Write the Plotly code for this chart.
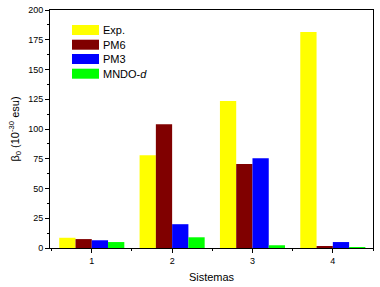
import plotly.graph_objects as go

categories = [1, 2, 3, 4]
tick_labels = ["1", "2", "3", "4"]
series_names = ["Exp.", "PM6", "PM3", "MNDO-<i>d</i>"]
exp_vals = [8.6, 78, 123.5, 181.5]
pm6_vals = [7.5, 104, 70.5, 1.7]
pm3_vals = [6.5, 20, 75.5, 5]
mndo_vals = [5, 9, 2.3, 0.8]
colors = ["#FFFF00", "#800000", "#0000FF", "#00FF00"]

all_vals = [exp_vals, pm6_vals, pm3_vals, mndo_vals]

fig = go.Figure()
for name, vals, c in zip(series_names, all_vals, colors):
    fig.add_trace(go.Bar(x=categories, y=vals, name=name, marker=dict(color=c, line=dict(width=0)),
                         showlegend=False))

# custom legend (wide swatches like the original)
row_y = [30, 44.7, 59, 73.7]
for name, c, yy in zip(series_names, colors, row_y):
    fig.add_shape(type="rect", xref="paper", yref="paper",
                  x0=(72 - 50) / 323, x1=(99 - 50) / 323,
                  y0=(248 - (yy + 5)) / 238, y1=(248 - (yy - 5)) / 238,
                  fillcolor=c, line=dict(width=0), layer="above")
    fig.add_annotation(xref="paper", yref="paper", x=(101 - 50) / 323, y=(248 - yy) / 238,
                       text=name, showarrow=False, xanchor="left", yanchor="middle",
                       font=dict(family="Liberation Sans, Arial", size=11, color="black"))

fig.update_layout(
    width=380, height=287,
    margin=dict(l=50, r=7, t=10, b=39),
    plot_bgcolor="white", paper_bgcolor="white",
    barmode="group", bargap=0.19, bargroupgap=0,
    font=dict(family="Liberation Sans, Arial", size=9, color="black"),
)
fig.update_xaxes(
    range=[0.48, 4.5], tickmode="array", tickvals=categories, ticktext=tick_labels,
    ticks="outside", ticklen=4, tickwidth=1, tickcolor="black",
    minor=dict(ticks="outside", ticklen=2, tickvals=[0.5, 1.5, 2.5, 3.5, 4.5], tickcolor="black"),
    showline=True, linecolor="black", linewidth=1, mirror=True, showgrid=False, zeroline=False,
    automargin=False, ticklabeloverflow="allow",
    title=dict(text="Sistemas", font=dict(size=11), standoff=8),
    tickfont=dict(size=9),
)
fig.update_yaxes(
    range=[0, 200], dtick=25, tick0=0,
    ticks="outside", ticklen=4, tickwidth=1, tickcolor="black",
    minor=dict(ticks="outside", ticklen=2, dtick=12.5, tick0=0, tickcolor="black"),
    showline=True, linecolor="black", linewidth=1, mirror=True, showgrid=False, zeroline=False,
    automargin=False, ticklabeloverflow="allow",
    title=dict(text="β<sub>0</sub> (10<sup>-30</sup> esu)", font=dict(size=11), standoff=6),
    tickfont=dict(size=9),
)

fig.write_html(
    "out.html",
    config={"displayModeBar": False},
    post_script="document.body.style.margin='0';document.body.style.padding='0';",
)
